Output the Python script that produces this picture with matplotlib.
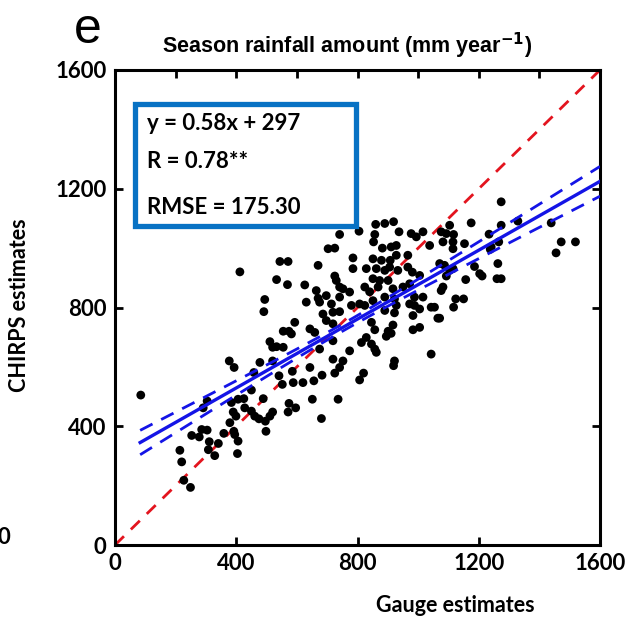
import numpy as np
import matplotlib
matplotlib.use("Agg")
import matplotlib.pyplot as plt
from matplotlib.patches import Rectangle

# ---------------- data ----------------
gauge = [412, 544, 571, 533, 569, 494, 491, 555, 574, 511, 520, 533, 555, 377, 393, 478, 520,
         85, 214, 220, 227, 249, 253, 278, 286, 304, 311, 308, 329, 341, 359, 291, 304, 384, 390,
         379, 392, 395, 406, 404, 399, 406, 425, 428, 450, 458, 489, 450, 461, 475, 496, 498, 511,
         520, 541, 552, 574, 571, 588,
         741, 805, 703, 725, 670, 785, 785, 829, 725, 730, 626, 741, 752, 774, 824, 664, 697, 670, 741,
         860, 890, 919, 857, 937, 977, 1016, 994, 853, 882, 911, 928, 1038, 851, 879, 908, 928, 966,
         862, 890, 906, 933, 966, 981, 1005, 851, 873, 901, 868, 917, 950, 972, 988, 1016, 840, 890, 922,
         631, 675, 686, 714, 719, 741, 697, 719, 780, 807, 824, 846, 593, 643, 659, 719, 774, 813, 829,
         846, 675, 582, 719, 752, 741, 643, 585,
         851, 890, 928, 922, 972, 988, 1005, 1043, 1054, 1065, 983, 857, 917, 901, 911, 895, 983, 1005,
         857, 862, 922, 919, 1043,
         620, 656, 683, 725, 807, 820, 596, 651, 736, 681,
         1274, 1175, 1274, 1329, 1439, 1472, 1519, 1455, 1104, 1076, 1093, 1117, 1082, 1115, 1115, 1153,
         1234, 1266, 1241, 1238, 1071, 1087, 1115, 1104, 1186, 1203, 1211, 1263, 1157, 1093, 1260, 1274,
         1082, 1076, 1124, 1150, 1117, 1071]
chirps = [920, 955, 955, 894, 877, 827, 786, 720, 720, 685, 666, 668, 666, 620, 598, 615, 620,
          505, 319, 280, 218, 194, 369, 364, 389, 387, 348, 321, 301, 342, 376, 462, 485, 480, 448,
          412, 383, 372, 350, 308, 434, 491, 493, 462, 522, 581, 493, 451, 434, 425, 417, 383, 434,
          448, 570, 541, 477, 448, 547,
          1046, 1057, 998, 1000, 942, 967, 931, 931, 906, 891, 876, 869, 863, 852, 869, 857, 840, 831, 835,
          1080, 1083, 1089, 1046, 1055, 1049, 1055, 1038, 1021, 1000, 1004, 1009, 1009, 964, 959, 959, 976, 976,
          931, 925, 936, 925, 936, 919, 908, 897, 891, 891, 869, 863, 869, 880, 835, 835, 853, 835, 829,
          818, 818, 778, 812, 784, 786, 756, 745, 807, 812, 807, 750, 750, 728, 716, 688, 654, 682, 699,
          677, 660, 711, 626, 620, 598, 598, 585,
          823, 790, 807, 782, 812, 807, 795, 801, 801, 764, 773, 725, 741, 720, 713, 703, 725, 733,
          660, 649, 620, 604, 643,
          547, 553, 572, 579, 556, 579, 462, 491, 491, 426,
          1156, 1085, 1077, 1091, 1085, 1021, 1021, 984, 1077, 1055, 1049, 1046, 1021, 1021, 998, 1015,
          1047, 1021, 1004, 996, 948, 942, 931, 925, 938, 914, 906, 948, 894, 906, 897, 897,
          869, 857, 829, 829, 801, 764]

slope = 0.58
intercept = 297
fit_x_range = [83, 1600]
band_params = dict(h0=12.0, k=0.058, xm=760.0)
stats_lines = ["y = 0.58x + 297", "R = 0.78**", "RMSE = 175.30"]
ticks = [0, 400, 800, 1200, 1600]
minor_top = [200, 600, 1000, 1400]

# ---------------- figure ----------------
W, H = 629, 620
fig = plt.figure(figsize=(W / 100, H / 100), dpi=100)
plt.rcParams['mathtext.fontset'] = 'custom'
plt.rcParams['mathtext.rm'] = 'Liberation Sans Narrow:bold'
plt.rcParams['mathtext.bf'] = 'Liberation Sans Narrow:bold'

L, R, T, B = 115, 600, 70, 545
ax = fig.add_axes([L / W, 1 - B / H, (R - L) / W, (B - T) / H])

def fx(px):
    return px / W

def fy(py):
    return 1 - py / H

tick_font = dict(family=['Lato', 'DejaVu Sans'], weight='bold', size=16)
label_font = dict(family=['Lato', 'DejaVu Sans'], weight='bold', size=15.5)

# 1:1 line
ax.plot([0, 1600], [0, 1600], color='#E3141E', lw=2.0, ls=(0, (4.5, 3.5)), zorder=2)

# scatter
ax.scatter(gauge, chirps, s=40, color='black', edgecolors='none', zorder=3)

# regression + confidence band
xs = np.linspace(fit_x_range[0], fit_x_range[1], 200)
ys = slope * xs + intercept
half = np.sqrt(band_params['h0'] ** 2 + (band_params['k'] * (xs - band_params['xm'])) ** 2)
ax.plot(xs, ys, color='#1414E6', lw=2.4, zorder=4)
ax.plot(xs, ys + half, color='#1414E6', lw=2.0, ls=(0, (5, 3.5)), zorder=4)
ax.plot(xs, ys - half, color='#1414E6', lw=2.0, ls=(0, (5, 3.5)), zorder=4)

ax.set_xlim(0, 1600)
ax.set_ylim(0, 1600)
ax.set_xticks(ticks)
ax.set_yticks(ticks)
ax.set_xticklabels([str(t) for t in ticks], **tick_font)
ax.set_yticklabels([str(t) for t in ticks], **tick_font)
ax.tick_params(direction='in', length=6, width=2, pad=6, top=True, right=True)
for sp in ax.spines.values():
    sp.set_linewidth(2.2)

ax.set_xticks(minor_top, minor=True)
ax.tick_params(which='minor', direction='in', length=6, width=2, bottom=False, top=True)

# labels
fig.text(fx(455), fy(606), "Gauge estimates", ha='center', va='center', **label_font)
fig.text(fx(20), fy(305), "CHIRPS estimates", ha='center', va='center', rotation=90, **label_font)
fig.text(fx(347), fy(46), r"Season rainfall amount (mm year$^{-1}$)", ha='center', va='center',
         family=['Liberation Sans Narrow', 'Liberation Sans'], weight='bold', size=15.5)
fig.text(fx(88), fy(30), "e", ha='center', va='center', family='Liberation Sans', size=36)
fig.text(fx(10), fy(537), "0", ha='right', va='center', **tick_font)

# stats box
box = Rectangle((fx(135), fy(226)), fx(356) - fx(135), fy(104) - fy(226), transform=fig.transFigure,
                fill=False, edgecolor='#0872C4', lw=3.8, zorder=5)
fig.patches.append(box)
for txt, py in zip(stats_lines, [123, 162, 208]):
    fig.text(fx(147), fy(py), txt, ha='left', va='center', family=['Lato', 'DejaVu Sans'],
             weight='bold', size=16)

fig.savefig("out.png", dpi=100)
